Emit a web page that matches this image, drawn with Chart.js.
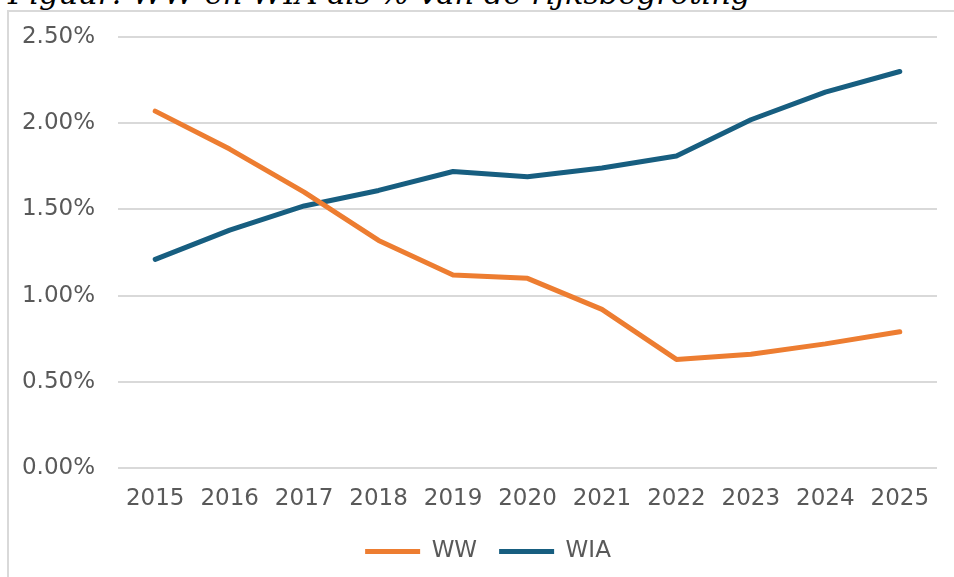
<!DOCTYPE html>
<html>
<head>
<meta charset="utf-8">
<script src="https://cdn.jsdelivr.net/npm/chart.js@4.4.1/dist/chart.umd.min.js"></script>
<style>
  html, body { margin: 0; padding: 0; background: #fff; overflow: hidden; }
  #frame { position: absolute; left: 7px; top: 10px; width: 980px; height: 600px; border: 2px solid #d9d9d9; box-sizing: border-box; }
  #title { position: absolute; left: 8px; top: -22px; font: italic 30.5px "DejaVu Serif", serif; line-height: 31px; color: #000; white-space: nowrap; }
  #wrap { position: absolute; left: 0; top: 0; width: 954px; height: 577px; }
</style>
</head>
<body>
<div id="frame"></div>
<div id="title">Figuur: WW en WIA als % van de rijksbegroting</div>
<div id="wrap"><canvas id="myChart"></canvas></div>
<script>
const years = ['2015', '2016', '2017', '2018', '2019', '2020', '2021', '2022', '2023', '2024', '2025'];
// aandeel in de rijksbegroting (%)
const ww  = [2.07, 1.85, 1.60, 1.32, 1.12, 1.10, 0.92, 0.63, 0.66, 0.72, 0.79];
const wia = [1.21, 1.38, 1.52, 1.61, 1.72, 1.69, 1.74, 1.81, 2.02, 2.18, 2.30];

const grey = '#595959';
const font = { family: 'DejaVu Sans', size: 23 };

const ctx = document.getElementById('myChart');

// legenda iets naar rechts, zoals in het origineel
const legendShift = {
    id: 'legendShift',
    afterLayout(chart) {
        chart.legend.left += 9;
        chart.legend.right += 9;
    }
};

new Chart(ctx, {
    type: 'line',
    data: {
        labels: years,
        datasets: [
            { label: 'WW', data: ww, borderColor: '#ed7d31', backgroundColor: '#ed7d31', borderWidth: 5, borderCapStyle: 'round', borderJoinStyle: 'round', pointRadius: 0, tension: 0 },
            { label: 'WIA', data: wia, borderColor: '#175e80', backgroundColor: '#175e80', borderWidth: 5, borderCapStyle: 'round', borderJoinStyle: 'round', pointRadius: 0, tension: 0 }
        ]
    },
    options: {
        responsive: true,
        maintainAspectRatio: false,
        animation: false,
        layout: {
            padding: { left: 21, right: 17, top: 37, bottom: 4 }
        },
        scales: {
            x: {
                offset: true,
                grid: { display: false },
                border: { display: false },
                ticks: { color: grey, font: font, padding: 9, maxRotation: 0 },
                afterFit: (scale) => { scale.height = 50; }
            },
            y: {
                min: 0,
                max: 2.5,
                grid: { color: '#d9d9d9', lineWidth: 2, drawTicks: false },
                border: { display: false },
                ticks: {
                    stepSize: 0.5,
                    color: grey,
                    font: font,
                    padding: 23,
                    callback: (v) => v.toFixed(2) + '%'
                },
                afterFit: (scale) => { scale.width = 97; }
            }
        },
        plugins: {
            tooltip: { enabled: false },
            legend: {
                position: 'bottom',
                labels: {
                    color: grey,
                    font: font,
                    usePointStyle: true,
                    pointStyle: 'line',
                    pointStyleWidth: 55,
                    padding: 22
                }
            }
        }
    },
    plugins: [legendShift]
});
</script>
</body>
</html>
